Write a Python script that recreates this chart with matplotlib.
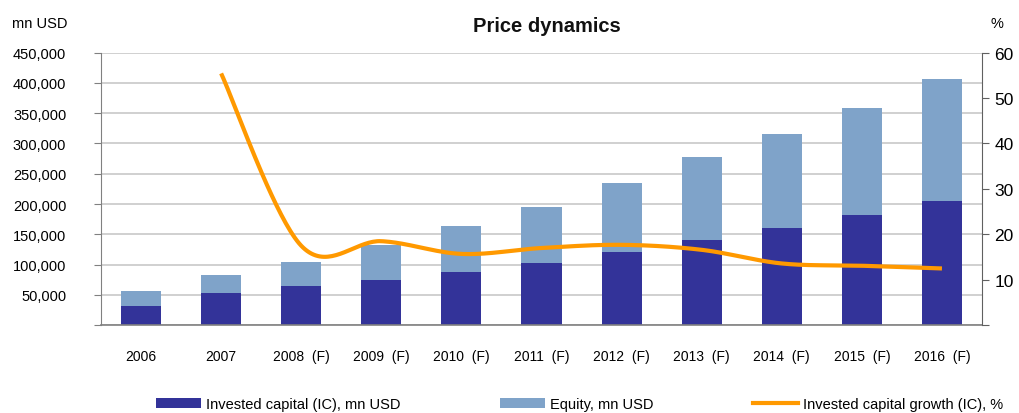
import numpy as np
import matplotlib
matplotlib.use("Agg")
import matplotlib.pyplot as plt
from matplotlib.patches import Patch
from matplotlib.lines import Line2D

years = ["2006", "2007", "2008  (F)", "2009  (F)", "2010  (F)", "2011  (F)",
         "2012  (F)", "2013  (F)", "2014  (F)", "2015  (F)", "2016  (F)"]
invested_capital = [31900, 53400, 65000, 74900, 88100, 103000, 121200, 141000, 160800, 182300, 205500]
equity = [24800, 29700, 39600, 57800, 76000, 92500, 114000, 137200, 155400, 176900, 200000]
growth_years_idx = [1, 2, 3, 4, 5, 6, 7, 8, 9, 10]
ic_growth = [55.4, 17.5, 18.5, 15.7, 17.0, 17.7, 16.6, 13.6, 13.1, 12.5]

left_ticks = [0, 50000, 100000, 150000, 200000, 250000, 300000, 350000, 400000, 450000]
left_labels = ["", "50,000", "100,000", "150,000", "200,000", "250,000", "300,000", "350,000", "400,000", "450,000"]
right_ticks = [0, 10, 20, 30, 40, 50, 60]
right_labels = ["", "10", "20", "30", "40", "50", "60"]

C_IC = "#333399"
C_EQ = "#7FA3C9"
C_GR = "#FF9900"
FONT = "Liberation Sans"

fig = plt.figure(figsize=(10.19, 4.14), dpi=100)
ax = fig.add_axes([101/1019, 1-326.3/414, (982-101)/1019, (326.3-53.5)/414])
x = np.arange(len(years))
ax.bar(x, invested_capital, width=0.5, color=C_IC, zorder=2)
ax.bar(x, equity, width=0.5, bottom=invested_capital, color=C_EQ, zorder=2)
ax.set_xlim(-0.5, len(years)-0.5)
ax.set_ylim(0, 450000)
ax.set_yticks(left_ticks)
ax.set_yticklabels(left_labels, fontfamily=FONT, fontsize=10.5)
ax.set_xticks(x)
ax.set_xticklabels(years, fontfamily=FONT, fontsize=10)
ax.tick_params(axis="x", length=0, pad=17)
ax.tick_params(axis="y", length=5, pad=20, color="#808080", direction="out")
ax.yaxis.grid(True, color="#C8C8C8", linewidth=1.2, zorder=0)
ax.set_axisbelow(True)
ax.spines["top"].set_visible(False)
ax.spines["right"].set_visible(False)
ax.spines["left"].set_color("#808080")
ax.spines["bottom"].set_color("#808080")
ax.spines["bottom"].set_linewidth(1.2)

ax2 = ax.twinx()
ax2.set_ylim(0, 60)
ax2.set_yticks(right_ticks)
ax2.set_yticklabels(right_labels, fontfamily=FONT, fontsize=12.5)
ax2.tick_params(axis="y", length=5, pad=4, color="#606060", direction="out")
for s in ["top", "left", "bottom"]:
    ax2.spines[s].set_visible(False)
ax2.spines["right"].set_color("#606060")

# Excel-style smoothed line (Catmull-Rom through data points)
px = np.array(growth_years_idx, dtype=float)
py = np.array(ic_growth, dtype=float)
P = np.column_stack([px, py])
Pext = np.vstack([P[0], P, P[-1]])
xs, ys = [], []
t = np.linspace(0, 1, 40)
for i in range(1, len(Pext)-2):
    p0, p1, p2, p3 = Pext[i-1], Pext[i], Pext[i+1], Pext[i+2]
    m1 = (p2 - p0) / 2
    m2 = (p3 - p1) / 2
    h00 = 2*t**3 - 3*t**2 + 1
    h10 = t**3 - 2*t**2 + t
    h01 = -2*t**3 + 3*t**2
    h11 = t**3 - t**2
    seg = (np.outer(h00, p1) + np.outer(h10, m1) + np.outer(h01, p2) + np.outer(h11, m2))
    xs.extend(seg[:, 0]); ys.extend(seg[:, 1])
ax2.plot(xs, ys, color=C_GR, linewidth=3, solid_capstyle="butt", zorder=3)

fig.text(547/1019, 1-27/414, "Price dynamics", ha="center", va="center",
         fontfamily=FONT, fontsize=14.5, fontweight="bold", color="#111111")
fig.text(12/1019, 1-24/414, "mn USD", ha="left", va="center", fontfamily=FONT, fontsize=10.5)
fig.text(997/1019, 1-24/414, "%", ha="center", va="center", fontfamily=FONT, fontsize=10.5)

entries = [
    (Patch(facecolor=C_IC), "Invested capital (IC), mn USD", 156),
    (Patch(facecolor=C_EQ), "Equity, mn USD", 500),
    (Line2D([], [], color=C_GR, linewidth=3), "Invested capital growth (IC), %", 753),
]
for h, lab, xp in entries:
    fig.legend([h], [lab], loc="center left", bbox_to_anchor=(xp/1019, 1-405/414),
               frameon=False, borderpad=0, borderaxespad=0, handlelength=3.1,
               handletextpad=0.3, prop={"family": FONT, "size": 10.5})

fig.savefig("out.png", dpi=100)
